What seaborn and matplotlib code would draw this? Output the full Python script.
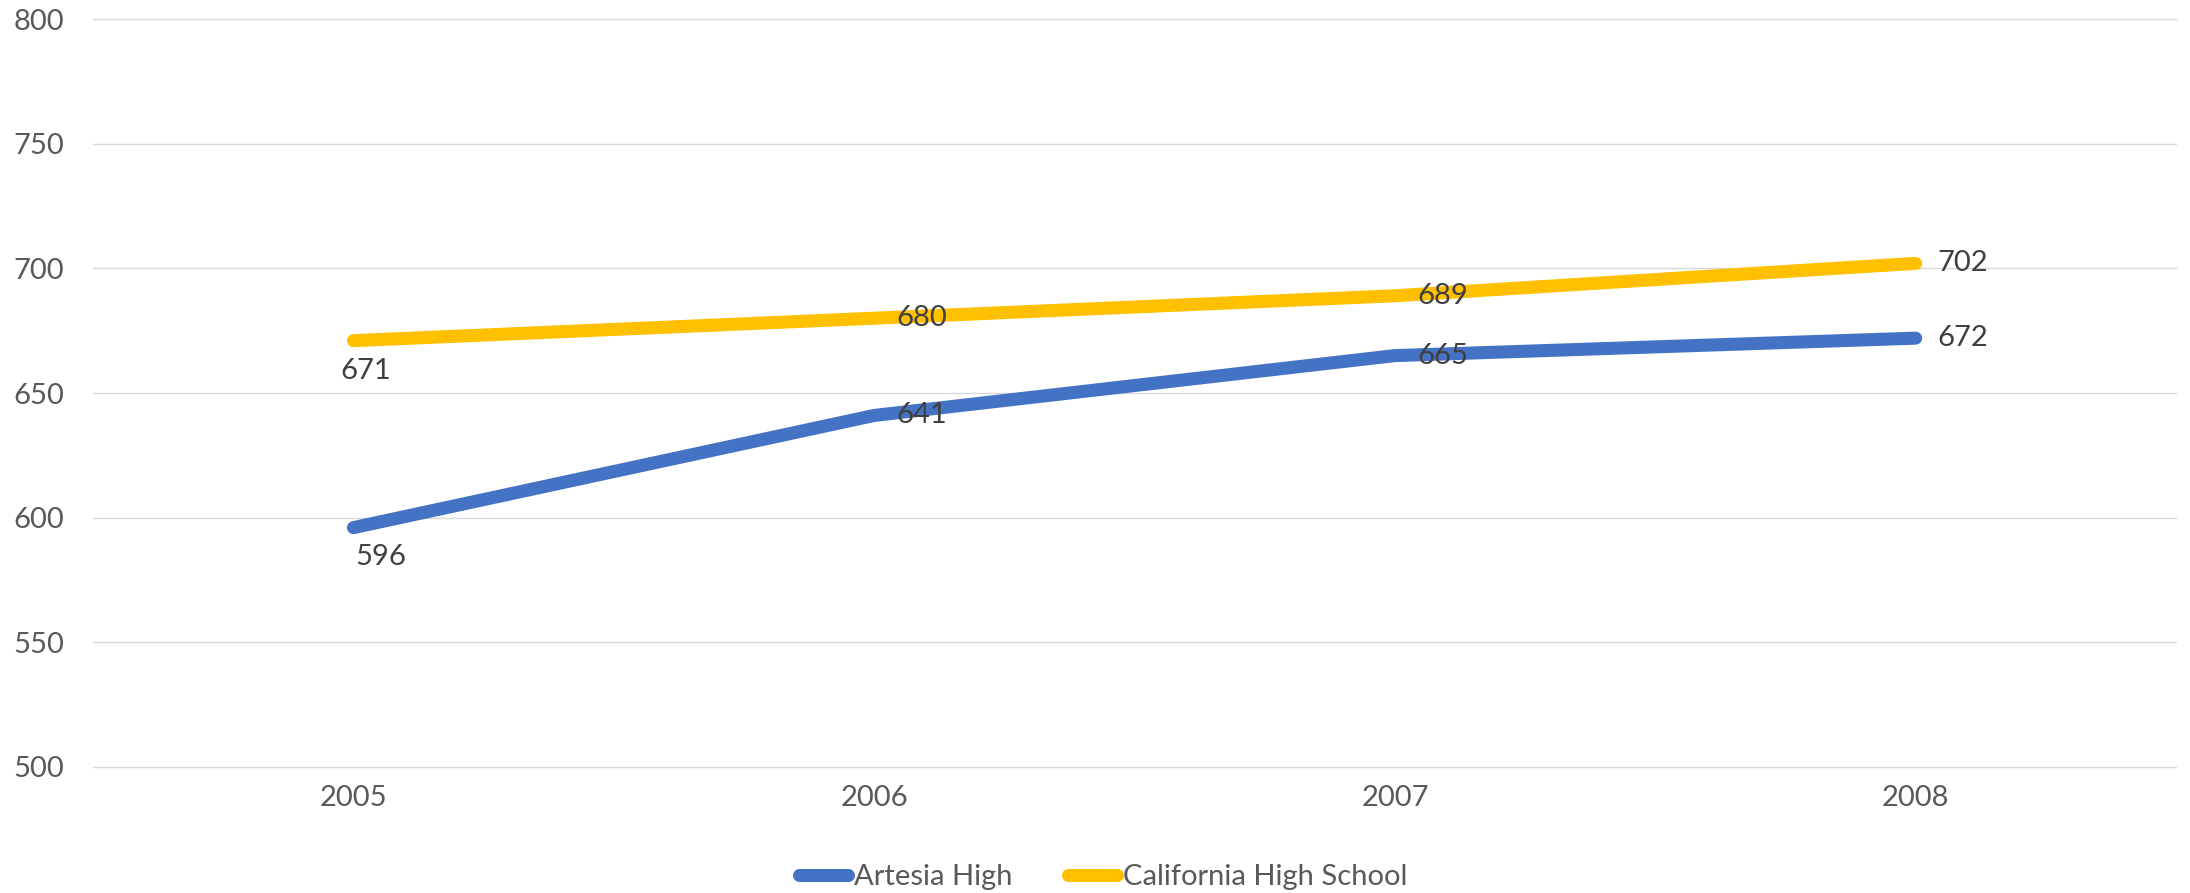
import matplotlib
matplotlib.use("Agg")
import matplotlib.pyplot as plt
import seaborn as sns
import pandas as pd

years = ["2005", "2006", "2007", "2008"]
artesia = [596, 641, 665, 672]
california = [671, 680, 689, 702]
series_names = ["Artesia High", "California High School"]
y_ticks = [500, 550, 600, 650, 700, 750, 800]

colors = {"Artesia High": "#4472C4", "California High School": "#FFC000"}

df = pd.DataFrame({
    "year": years * 2,
    "score": artesia + california,
    "school": [series_names[0]] * len(years) + [series_names[1]] * len(years),
})

sns.set_theme(style="white")
plt.rcParams["font.family"] = ["Lato", "DejaVu Sans"]

FS = 21

fig = plt.figure(figsize=(21.9, 8.93), dpi=100)
ax = fig.add_axes([0.0425, 0.1411, 0.9511, 0.8376])

sns.lineplot(data=df, x="year", y="score", hue="school", palette=colors,
             sort=False, linewidth=9.4, ax=ax, legend=False,
             solid_capstyle="round")

ax.set_ylim(500, 800)
ax.set_xlim(-0.5, len(years) - 0.5)
ax.set_yticks(y_ticks)
ax.grid(axis="y", color="#D9D9D9", linewidth=1.0)
for gl in ax.get_ygridlines():
    gl.set_clip_on(False)
ax.set_axisbelow(True)
for s in ax.spines.values():
    s.set_visible(False)
ax.tick_params(axis="both", length=0, labelsize=FS, labelcolor="#595959")
ax.tick_params(axis="y", pad=21)
ax.tick_params(axis="x", pad=13)
ax.set_xlabel("")
ax.set_ylabel("")

# value labels: first point below, the rest to the right of each point
label_kw = dict(fontsize=FS, color="#404040", textcoords="offset points")
for i, (yr, v) in enumerate(zip(years, california)):
    if i == 0:
        ax.annotate(str(v), (i, v), xytext=(9, -22), ha="center", va="center", **label_kw)
    else:
        ax.annotate(str(v), (i, v), xytext=(16, 0), ha="left", va="center", **label_kw)
for i, (yr, v) in enumerate(zip(years, artesia)):
    if i == 0:
        ax.annotate(str(v), (i, v), xytext=(20, -21), ha="center", va="center", **label_kw)
    else:
        ax.annotate(str(v), (i, v), xytext=(16, 0), ha="left", va="center", **label_kw)

handles = [plt.Line2D([], [], color=colors[n], linewidth=9.4, solid_capstyle="round")
           for n in series_names]
fig.legend(handles, series_names, loc="center", bbox_to_anchor=(0.5037, 0.018),
           ncol=2, frameon=False, fontsize=FS, handlelength=1.67, handletextpad=0.22,
           columnspacing=1.9, labelcolor="#595959")

fig.savefig("out.png", dpi=100)
